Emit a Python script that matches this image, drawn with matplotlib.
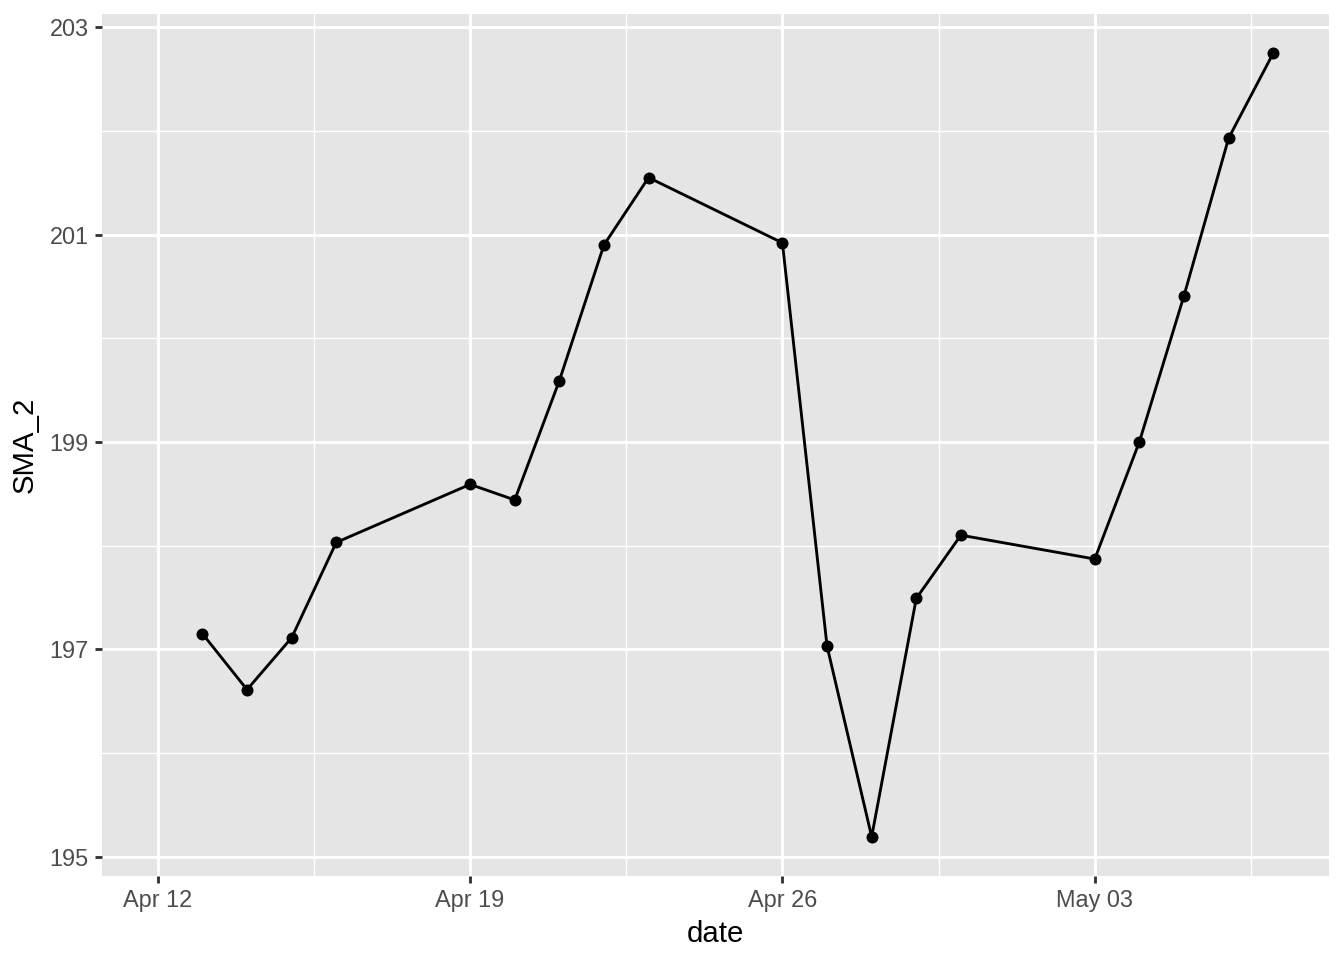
import matplotlib
matplotlib.use("Agg")
import matplotlib.pyplot as plt
import matplotlib.dates as mdates
import numpy as np
import datetime as dt

dates = ["2021-04-13", "2021-04-14", "2021-04-15", "2021-04-16", "2021-04-19",
         "2021-04-20", "2021-04-21", "2021-04-22", "2021-04-23", "2021-04-26",
         "2021-04-27", "2021-04-28", "2021-04-29", "2021-04-30", "2021-05-03",
         "2021-05-04", "2021-05-05", "2021-05-06", "2021-05-07"]
sma_2 = [197.15, 196.61, 197.11, 198.03, 198.59, 198.44, 199.59, 200.90, 201.55,
         200.92, 197.03, 195.19, 197.49, 198.10, 197.87, 199.00, 200.41, 201.93, 202.75]
x_ticks = ["2021-04-12", "2021-04-19", "2021-04-26", "2021-05-03"]
x_tick_labels = ["Apr 12", "Apr 19", "Apr 26", "May 03"]
y_ticks = [195, 197, 199, 201, 203]

plt.rcParams['font.family'] = ['Liberation Sans', 'DejaVu Sans']

d = [dt.datetime.strptime(s, "%Y-%m-%d") for s in dates]
xt = [dt.datetime.strptime(s, "%Y-%m-%d") for s in x_ticks]

fig = plt.figure(figsize=(7, 5), dpi=192)
ax = fig.add_axes([102/1344, 84/960, (1329-102)/1344, (946-84)/960])
ax.set_facecolor("#E5E5E5")

xnum = mdates.date2num(d)
xtn = mdates.date2num(xt)
x0 = xtn[0]  # range includes first date (NA value)
x1 = xnum[-1]
pad = (x1 - x0) * 0.05
ax.set_xlim(x0 - pad, x1 + pad)
ymin, ymax = min(sma_2), max(sma_2)
yp = (ymax - ymin) * 0.05
ax.set_ylim(ymin - yp, ymax + yp)

ax.set_xticks(xtn)
ax.set_xticklabels(x_tick_labels)
ax.set_xticks([(xtn[i] + xtn[i+1]) / 2 for i in range(len(xtn)-1)] + [xtn[-1] + 3.5], minor=True)
ax.set_yticks(y_ticks)
ax.set_yticklabels([str(v) for v in y_ticks])
ax.set_yticks([196, 198, 200, 202], minor=True)

ax.grid(which="major", color="white", linewidth=1.07)
ax.grid(which="minor", color="white", linewidth=0.53)
ax.set_axisbelow(True)
for s in ax.spines.values():
    s.set_visible(False)
ax.tick_params(which="major", length=2.75, width=1.07, color="#333333",
               labelsize=8.8, labelcolor="#4D4D4D", pad=2.2)
ax.tick_params(which="minor", length=0)

ax.plot(xnum, sma_2, color="black", linewidth=1.07, zorder=3)
ax.plot(xnum, sma_2, "o", color="black", markersize=4.5, markeredgewidth=0, zorder=4)

ax.set_xlabel("date", fontsize=11, labelpad=3)
ax.set_ylabel("SMA_2", fontsize=11, labelpad=4)

fig.savefig("out.png", dpi=192)
